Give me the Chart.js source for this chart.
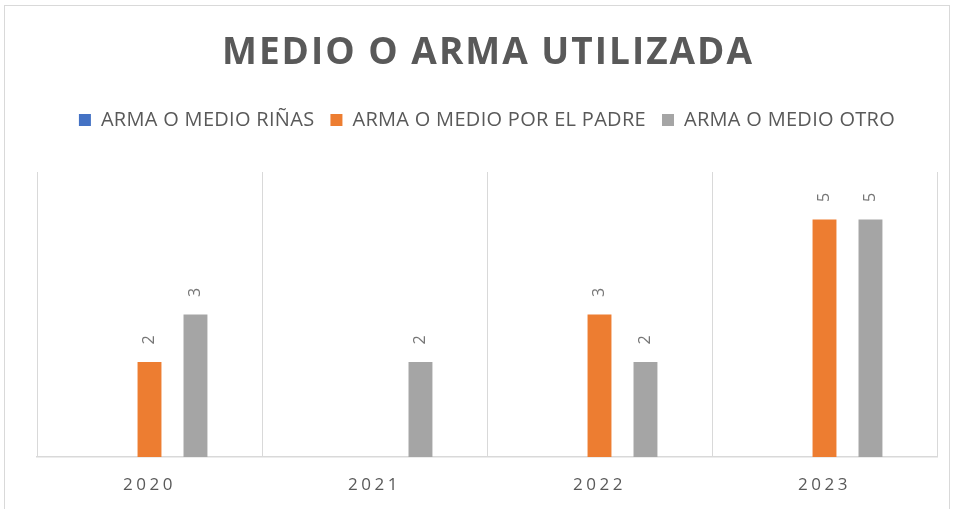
<!DOCTYPE html>
<html>
<head>
<meta charset="utf-8">
<script src="https://cdn.jsdelivr.net/npm/chart.js@4.4.1/dist/chart.umd.min.js"></script>
<style>
  html, body { margin: 0; padding: 0; background: #fff; }
  #wrap { position: relative; width: 955px; height: 509px; }
</style>
</head>
<body>
<div id="wrap"><canvas id="chart"></canvas></div>
<script>
const chartTitle = "MEDIO O ARMA UTILIZADA";
const categories = ["2020", "2021", "2022", "2023"];
const seriesNames = ["ARMA O MEDIO RIÑAS", "ARMA O MEDIO POR EL PADRE", "ARMA O MEDIO OTRO"];
const rinas = [null, null, null, null];
const padre = [2, null, 3, 5];
const otro = [3, 2, 2, 5];
const seriesColors = ["#4472C4", "#ED7D31", "#A5A5A5"];

const textGrey = "#595959";

// title, frame, rotated value labels and letter spacing
const decorations = {
    id: "decorations",
    beforeLayout(chart) {
        chart.ctx.letterSpacing = "0.3px";
        const lg = chart.legend;
        if (lg && !lg._padded) {
            const fit = lg.fit;
            lg.fit = function () {
                fit.call(this);
                this.height += 32;
            };
            lg._padded = true;
        }
    },
    afterLayout(chart) {
        chart.ctx.letterSpacing = "0px";
    },
    beforeDraw(chart) {
        const ctx = chart.ctx;
        ctx.save();
        ctx.strokeStyle = "#d9d9d9";
        ctx.lineWidth = 1;
        ctx.strokeRect(4.5, 5.5, 945, 600);
        ctx.font = "bold 37px 'Open Sans'";
        ctx.letterSpacing = "2px";
        ctx.fillStyle = textGrey;
        ctx.textAlign = "center";
        ctx.textBaseline = "middle";
        ctx.fillText(chartTitle, 488, 53);
        ctx.restore();
        ctx.letterSpacing = "0.3px";
    },
    afterDatasetsDraw(chart) {
        const ctx = chart.ctx;
        ctx.letterSpacing = "0px";
        ctx.save();
        ctx.font = "16px 'Open Sans'";
        ctx.fillStyle = "#767676";
        ctx.textAlign = "center";
        ctx.textBaseline = "middle";
        chart.data.datasets.forEach((ds, i) => {
            chart.getDatasetMeta(i).data.forEach((bar, j) => {
                const v = ds.data[j];
                if (v === null || v === undefined) return;
                ctx.save();
                ctx.translate(bar.x, bar.y - 22);
                ctx.rotate(-Math.PI / 2);
                ctx.fillText(String(v), 0, 0);
                ctx.restore();
            });
        });
        ctx.restore();
        ctx.letterSpacing = "3.5px";
    },
    afterDraw(chart) {
        chart.ctx.letterSpacing = "0px";
    }
};

new Chart(document.getElementById("chart"), {
    type: "bar",
    data: {
        labels: categories,
        datasets: [
            { label: seriesNames[0], data: rinas, backgroundColor: seriesColors[0] },
            { label: seriesNames[1], data: padre, backgroundColor: seriesColors[1] },
            { label: seriesNames[2], data: otro, backgroundColor: seriesColors[2] },
        ],
    },
    options: {
        responsive: true,
        maintainAspectRatio: false,
        animation: false,
        layout: { padding: { top: 94, left: 37, right: 18, bottom: 0 } },
        datasets: {
            bar: { categoryPercentage: 0.613, barPercentage: 0.52 },
        },
        plugins: {
            title: { display: false },
            tooltip: { enabled: false },
            legend: {
                position: "top",
                labels: {
                    boxWidth: 12,
                    boxHeight: 12,
                    padding: 16,
                    color: textGrey,
                    font: { family: "'Open Sans'", size: 20 },
                },
            },
        },
        scales: {
            x: {
                grid: { color: "#d9d9d9", offset: true, drawTicks: false, lineWidth: 1 },
                border: { color: "#d9d9d9", width: 1.5 },
                ticks: {
                    color: textGrey,
                    font: { family: "'Open Sans'", size: 17 },
                    padding: 18,
                    z: 1,
                    maxRotation: 0,
                    autoSkip: false,
                },
                afterFit(axis) {
                    axis.height = 52;
                },
            },
            y: { display: false, min: 0, max: 6 },
        },
    },
    plugins: [decorations],
});
</script>
</body>
</html>
